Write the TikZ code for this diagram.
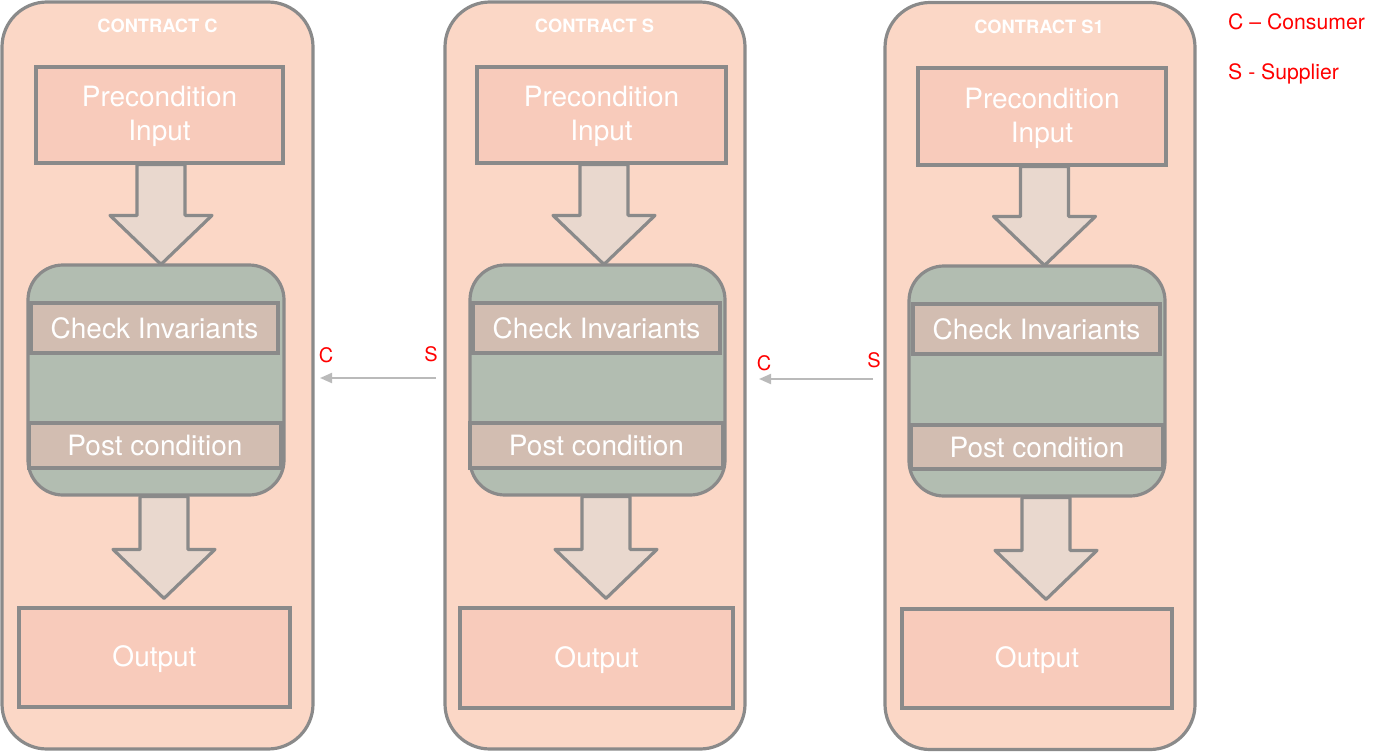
\documentclass[tikz,border=0pt]{standalone}
\usepackage{fontspec}
\setmainfont{TeX Gyre Heros}
\usetikzlibrary{arrows.meta,calc}
\definecolor{outerfill}{HTML}{FBD7C6}
\definecolor{boxfill}{HTML}{F8CBBB}
\definecolor{arrfill}{HTML}{E9D8CE}
\definecolor{greenfill}{HTML}{B2BDB1}
\definecolor{barfill}{HTML}{D2BDB1}
\definecolor{strokegray}{HTML}{8A8A8A}
\definecolor{conngray}{HTML}{BABABA}
\definecolor{lblred}{HTML}{FF0000}
\tikzset{
  outerbox/.style={draw=strokegray, line width=3.2pt, fill=outerfill, rounded corners=45pt, inner sep=0pt},
  titletext/.style={text=white, font=\bfseries\fontsize{18.3}{21}\selectfont, inner sep=0pt},
  pinkbox/.style={draw=strokegray, line width=3.2pt, fill=boxfill, inner sep=0pt, text=white, align=center, font=\fontsize{28}{34}\selectfont},
  greenbox/.style={draw=strokegray, line width=3.2pt, fill=greenfill, rounded corners=35pt, inner sep=0pt},
  barbox/.style={draw=strokegray, line width=3.2pt, fill=barfill, inner sep=0pt, text=white, font=\fontsize{28}{34}\selectfont},
  blockarr/.style={draw=strokegray, line width=3.2pt, fill=arrfill, line join=round},
  conn/.style={draw=conngray, line width=2pt, -{Triangle[length=12pt,width=10pt]}},
  redlbl/.style={text=lblred, inner sep=0pt, font=\fontsize{20}{23}\selectfont},
  legend/.style={text=lblred, inner sep=0pt, anchor=west, font=\fontsize{21.2}{25}\selectfont}
}
\newcommand\downtext[1]{\raisebox{-2pt}[\height][\depth]{#1}}
\newcommand\pretext{\downtext{\begin{tabular}{@{}c@{}}Precondition\\Input\end{tabular}}}
% #1 start (top of shaft), #2 tip point
\newcommand\blockarrow[2]{%
  \path[blockarr] let \p1=(#1), \p2=(#2) in
    (\x1-24pt,\y1) -- (\x1+24pt,\y1) -- (\x1+24pt,\y2+49pt) -- (\x1+51pt,\y2+49pt)
    -- (\x2,\y2) -- (\x1-51pt,\y2+49pt) -- (\x1-24pt,\y2+49pt) -- cycle;}
\begin{document}
\begin{tikzpicture}[x=1pt,y=-1pt]
\useasboundingbox (0,0) rectangle (1380,752);

% ---------- Column 1 ----------
\node[outerbox, minimum width=311pt, minimum height=747pt] (outer1) at (157.5,375.5) {};
\node[titletext] (title1) at (157.5,26) {CONTRACT C};
\node[pinkbox, minimum width=247pt, minimum height=96pt] (pre1) at (159.5,115) {\pretext};
\node[greenbox, minimum width=256pt, minimum height=230pt] (green1) at (156,380) {};
\node[barbox, minimum width=247pt, minimum height=50pt] (chk1) at (154.5,328) {Check Invariants};
\node[barbox, minimum width=252pt, minimum height=45pt] (post1) at (155,445.5) {Post condition};
\node[pinkbox, minimum width=271pt, minimum height=99pt] (out1) at (154.5,657.5) {\downtext{Output}};
\coordinate (ax1) at (161,0);
\coordinate (bx1) at (164,0);
\blockarrow{pre1.south -| ax1}{[yshift=-1pt]green1.north -| ax1}
\blockarrow{green1.south -| bx1}{[yshift=8pt]out1.north -| bx1}

% ---------- Column 2 ----------
\node[outerbox, minimum width=300pt, minimum height=747pt] (outer2) at (595,375.5) {};
\node[titletext] (title2) at (594.5,26) {CONTRACT S};
\node[pinkbox, minimum width=249pt, minimum height=96pt] (pre2) at (601.5,115) {\pretext};
\node[greenbox, minimum width=255pt, minimum height=230pt] (green2) at (597.5,380) {};
\node[barbox, minimum width=247pt, minimum height=50pt] (chk2) at (596.5,328) {Check Invariants};
\node[barbox, minimum width=253pt, minimum height=45pt] (post2) at (596.5,445.5) {Post condition};
\node[pinkbox, minimum width=273pt, minimum height=100pt] (out2) at (596.5,658) {\downtext{Output}};
\coordinate (ax2) at (604,0);
\coordinate (bx2) at (606,0);
\blockarrow{pre2.south -| ax2}{[yshift=-1pt]green2.north -| ax2}
\blockarrow{green2.south -| bx2}{[yshift=8pt]out2.north -| bx2}

% ---------- Column 3 ----------
\node[outerbox, minimum width=310pt, minimum height=747pt] (outer3) at (1040,376) {};
\node[titletext] (title3) at (1039,27) {CONTRACT S1};
\node[pinkbox, minimum width=248pt, minimum height=97pt] (pre3) at (1042,116.5) {\pretext};
\node[greenbox, minimum width=256pt, minimum height=230pt] (green3) at (1037,381) {};
\node[barbox, minimum width=247pt, minimum height=50pt] (chk3) at (1036.5,329) {Check Invariants};
\node[barbox, minimum width=252pt, minimum height=44pt] (post3) at (1037,447) {Post condition};
\node[pinkbox, minimum width=270pt, minimum height=99pt] (out3) at (1037,658.5) {\downtext{Output}};
\coordinate (ax3) at (1044.5,0);
\coordinate (bx3) at (1046,0);
\blockarrow{pre3.south -| ax3}{[yshift=-1pt]green3.north -| ax3}
\blockarrow{green3.south -| bx3}{[yshift=8pt]out3.north -| bx3}

% ---------- Connectors between contracts ----------
\coordinate (s1) at (436,378);
\coordinate (c1) at (320,378);
\draw[conn] (s1) -- (c1);
\node[redlbl] (lc1) at (326,355) {C};
\node[redlbl] (ls1) at (431,354) {S};

\coordinate (s2) at (873,379);
\coordinate (c2) at (759,379);
\draw[conn] (s2) -- (c2);
\node[redlbl] (lc2) at (764,363) {C};
\node[redlbl] (ls2) at (874,360) {S};

% ---------- Legend ----------
\node[legend] (leg1) at (1228,22) {C – Consumer};
\node[legend] (leg2) at (1228,74) {S - Supplier};
\end{tikzpicture}
\end{document}
